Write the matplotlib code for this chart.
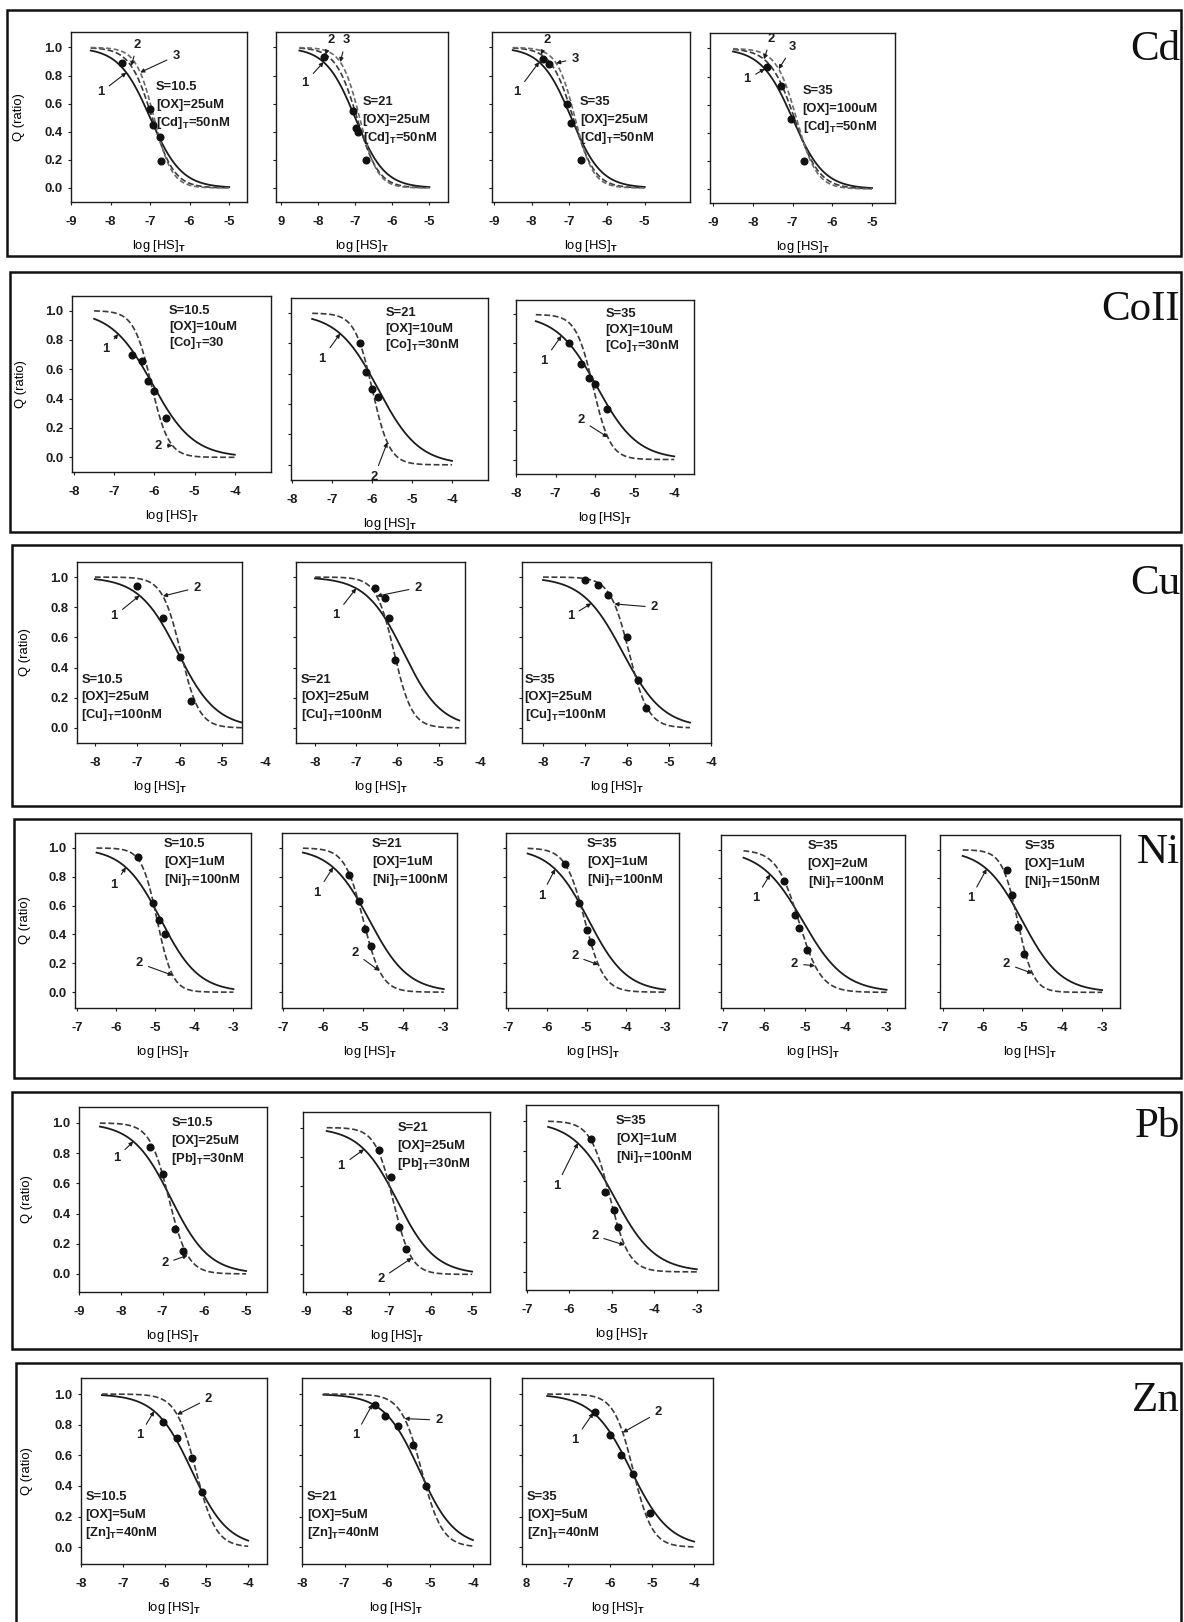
import numpy as np
import matplotlib
matplotlib.use("Agg")
import matplotlib.pyplot as plt
from matplotlib.patches import Rectangle

# ---------------------------------------------------------------------------
# Data: fitted logistic curves Q = 1 / (1 + 10**(slope * (log[HS]T - mid)))
# Curve order per panel: 1 (solid), 2 (dashed), 3 (dashed, Cd only)
# ---------------------------------------------------------------------------

# ---- Cd ----
CD_MID = [[-7.0, -6.95, -6.9], [-7.0, -6.95, -6.88], [-6.95, -6.9, -6.85], [-7.0, -6.95, -6.9]]
CD_SLOPE = [[1.1, 1.55, 1.9], [1.1, 1.5, 1.8], [1.1, 1.5, 1.8], [1.1, 1.4, 1.7]]
CD_PTS_X = [[-7.7, -7.0, -6.93, -6.75, -6.72],
            [-7.85, -7.05, -6.98, -6.92, -6.72],
            [-7.7, -7.55, -7.05, -6.95, -6.7],
            [-7.65, -7.3, -7.05, -6.72]]
CD_PTS_Y = [[0.89, 0.56, 0.45, 0.36, 0.19],
            [0.93, 0.55, 0.43, 0.40, 0.20],
            [0.92, 0.88, 0.60, 0.46, 0.20],
            [0.87, 0.73, 0.50, 0.20]]
CD_INFO = [["S=10.5", "[OX]=25uM", "[Cd]$_T$=50nM"],
           ["S=21", "[OX]=25uM", "[Cd]$_T$=50nM"],
           ["S=35", "[OX]=25uM", "[Cd]$_T$=50nM"],
           ["S=35", "[OX]=100uM", "[Cd]$_T$=50nM"]]
CD_XTICKS = [-9, -8, -7, -6, -5]
CD_XTICKLABELS = [["-9", "-8", "-7", "-6", "-5"], ["9", "-8", "-7", "-6", "-5"],
                  ["-9", "-8", "-7", "-6", "-5"], ["-9", "-8", "-7", "-6", "-5"]]
CD_DOMAIN = [(-8.5, -5.0)] * 4

# ---- CoII ----
CO_MID = [[-6.05, -6.08], [-5.85, -6.0], [-5.95, -6.05]]
CO_SLOPE = [[0.85, 2.0], [0.85, 2.0], [0.85, 2.0]]
CO_PTS_X = [[-6.55, -6.3, -6.15, -6.0, -5.7],
            [-6.3, -6.15, -6.0, -5.85],
            [-6.65, -6.35, -6.15, -6.0, -5.7]]
CO_PTS_Y = [[0.70, 0.66, 0.52, 0.45, 0.27],
            [0.80, 0.61, 0.50, 0.45],
            [0.80, 0.66, 0.56, 0.52, 0.35]]
CO_INFO = [["S=10.5", "[OX]=10uM", "[Co]$_T$=30"],
           ["S=21", "[OX]=10uM", "[Co]$_T$=30nM"],
           ["S=35", "[OX]=10uM", "[Co]$_T$=30nM"]]
CO_XTICKS = [-8, -7, -6, -5, -4]
CO_XTICKLABELS = [["-8", "-7", "-6", "-5", "-4"]] * 3
CO_DOMAIN = [(-7.5, -4.0)] * 3

# ---- Cu ----
CU_MID = [[-6.05, -5.98], [-5.85, -6.08], [-6.1, -5.95]]
CU_SLOPE = [[0.95, 2.0], [0.95, 2.0], [0.9, 1.9]]
CU_PTS_X = [[-7.0, -6.4, -6.0, -5.75],
            [-6.55, -6.3, -6.2, -6.05],
            [-7.0, -6.7, -6.45, -6.0, -5.75, -5.55]]
CU_PTS_Y = [[0.94, 0.73, 0.47, 0.18],
            [0.93, 0.86, 0.73, 0.45],
            [0.98, 0.95, 0.88, 0.60, 0.32, 0.13]]
CU_INFO = [["S=10.5", "[OX]=25uM", "[Cu]$_T$=100nM"],
           ["S=21", "[OX]=25uM", "[Cu]$_T$=100nM"],
           ["S=35", "[OX]=25uM", "[Cu]$_T$=100nM"]]
CU_XTICKS = [-8, -7, -6, -5, -4]
CU_XTICKLABELS = [["-8", "-7", "-6", "-5", "-4"]] * 3
CU_DOMAIN = [(-8.0, -4.5)] * 3

# ---- Ni ----
NI_MID = [[-4.85, -4.95], [-4.85, -5.0], [-4.95, -5.05], [-5.05, -5.15], [-5.0, -5.12]]
NI_SLOPE = [[0.9, 2.2], [0.9, 1.9], [0.9, 1.8], [0.85, 1.6], [0.9, 2.2]]
NI_PTS_X = [[-5.45, -5.05, -4.9, -4.75],
            [-5.35, -5.1, -4.95, -4.8],
            [-5.55, -5.2, -5.0, -4.9],
            [-5.5, -5.25, -5.15, -4.95],
            [-5.4, -5.25, -5.1, -4.95]]
NI_PTS_Y = [[0.94, 0.62, 0.50, 0.40],
            [0.81, 0.63, 0.44, 0.32],
            [0.89, 0.62, 0.43, 0.35],
            [0.78, 0.54, 0.45, 0.30],
            [0.86, 0.68, 0.46, 0.27]]
NI_INFO = [["S=10.5", "[OX]=1uM", "[Ni]$_T$=100nM"],
           ["S=21", "[OX]=1uM", "[Ni]$_T$=100nM"],
           ["S=35", "[OX]=1uM", "[Ni]$_T$=100nM"],
           ["S=35", "[OX]=2uM", "[Ni]$_T$=100nM"],
           ["S=35", "[OX]=1uM", "[Ni]$_T$=150nM"]]
NI_XTICKS = [-7, -6, -5, -4, -3]
NI_XTICKLABELS = [["-7", "-6", "-5", "-4", "-3"]] * 5
NI_DOMAIN = [(-6.5, -3.0)] * 5

# ---- Pb ----
PB_MID = [[-6.8, -6.85], [-6.8, -6.9], [-4.95, -5.05]]
PB_SLOPE = [[0.95, 1.9], [0.95, 2.0], [0.9, 1.9]]
PB_PTS_X = [[-7.3, -7.0, -6.7, -6.5],
            [-7.25, -6.95, -6.75, -6.6],
            [-5.5, -5.15, -4.95, -4.85]]
PB_PTS_Y = [[0.84, 0.66, 0.30, 0.15],
            [0.85, 0.66, 0.32, 0.17],
            [0.88, 0.53, 0.41, 0.30]]
PB_INFO = [["S=10.5", "[OX]=25uM", "[Pb]$_T$=30nM"],
           ["S=21", "[OX]=25uM", "[Pb]$_T$=30nM"],
           ["S=35", "[OX]=1uM", "[Ni]$_T$=100nM"]]
PB_XTICKS = [[-9, -8, -7, -6, -5], [-9, -8, -7, -6, -5], [-7, -6, -5, -4, -3]]
PB_XTICKLABELS = [["-9", "-8", "-7", "-6", "-5"], ["-9", "-8", "-7", "-6", "-5"],
                  ["-7", "-6", "-5", "-4", "-3"]]
PB_DOMAIN = [(-8.5, -5.0), (-8.5, -5.0), (-6.5, -3.0)]

# ---- Zn ----
ZN_MID = [[-5.35, -5.25], [-5.25, -5.2], [-5.5, -5.45]]
ZN_SLOPE = [[1.0, 1.8], [1.05, 1.8], [0.95, 1.9]]
ZN_PTS_X = [[-6.05, -5.7, -5.35, -5.1],
            [-6.3, -6.05, -5.75, -5.4, -5.1],
            [-6.35, -6.0, -5.75, -5.45, -5.05]]
ZN_PTS_Y = [[0.82, 0.71, 0.58, 0.36],
            [0.93, 0.86, 0.79, 0.67, 0.40],
            [0.88, 0.73, 0.60, 0.48, 0.22]]
ZN_INFO = [["S=10.5", "[OX]=5uM", "[Zn]$_T$=40nM"],
           ["S=21", "[OX]=5uM", "[Zn]$_T$=40nM"],
           ["S=35", "[OX]=5uM", "[Zn]$_T$=40nM"]]
ZN_XTICKS = [-8, -7, -6, -5, -4]
ZN_XTICKLABELS = [["-8", "-7", "-6", "-5", "-4"], ["-8", "-7", "-6", "-5", "-4"],
                  ["8", "-7", "-6", "-5", "-4"]]
ZN_DOMAIN = [(-7.5, -4.0)] * 3

Y_TICKS = [0.0, 0.2, 0.4, 0.6, 0.8, 1.0]
Y_TICKLABELS = ["0.0", "0.2", "0.4", "0.6", "0.8", "1.0"]

# ---------------------------------------------------------------------------
# Layout (pixel frames x0, x1, y0, y1 measured from the top-left corner)
# ---------------------------------------------------------------------------
W, H = 1184, 1622

LAYOUT = {
    "Cd": dict(box=(7, 10, 1181, 256), title_y=50, ylabel_x=25,
               frames=[(71, 247, 32, 202), (276, 448, 32, 202),
                       (492, 690, 32, 202), (710, 895, 33, 203)],
               xlims=[(-9.0, -4.55), (-9.13, -4.5), (-9.05, -3.8), (-9.08, -4.42)],
               ylim=(-0.1, 1.11),
               info_at=[(-6.85, 0.72), (-6.8, 0.61), (-6.72, 0.61), (-6.75, 0.70)],
               info_step=18,
               arrows=[[("1", -8.25, 0.68, 0, -7.6), ("2", -7.32, 1.02, 1, -7.48),
                        ("3", -6.35, 0.94, 2, -7.25)],
                       [("1", -8.35, 0.75, 0, -7.85), ("2", -7.65, 1.05, 1, -7.8),
                        ("3", -7.25, 1.05, 2, -7.4)],
                       [("1", -8.4, 0.68, 0, -7.8), ("2", -7.6, 1.05, 1, -7.75),
                        ("3", -6.85, 0.92, 2, -7.35)],
                       [("1", -8.15, 0.78, 0, -7.7), ("2", -7.55, 1.07, 1, -7.72),
                        ("3", -7.0, 1.01, 2, -7.35)]]),
    "CoII": dict(box=(10, 272, 1181, 532), title_y=310, ylabel_x=27,
                 frames=[(72, 271, 296, 472), (291, 488, 298, 480), (516, 694, 300, 474)],
                 xlims=[(-8.05, -3.1), (-8.03, -3.1), (-8.0, -3.5)],
                 ylim=(-0.1, 1.1),
                 info_at=[(-5.64, 1.0), (-5.67, 1.0), (-5.74, 1.0)],
                 info_step=16,
                 arrows=[[("1", -7.2, 0.74, 0, -6.9), ("2", -5.9, 0.08, 1, -5.55)],
                         [("1", -7.25, 0.70, 0, -6.8), ("2", -5.95, -0.08, 1, -5.62)],
                         [("1", -7.3, 0.68, 0, -6.85), ("2", -6.35, 0.27, 1, -5.68)]]),
    "Cu": dict(box=(12, 545, 1181, 806), title_y=584, ylabel_x=31,
               frames=[(77, 242, 562, 743), (296, 465, 562, 743), (522, 711, 562, 743)],
               xlims=[(-8.42, -4.54), (-8.46, -4.36), (-8.5, -4.0)],
               ylim=(-0.1, 1.1),
               info_at=[(-8.32, 0.32), (-8.34, 0.32), (-8.44, 0.32)],
               info_step=17.5,
               arrows=[[("1", -7.55, 0.74, 0, -6.95), ("2", -5.6, 0.93, 1, -6.4)],
                       [("1", -7.5, 0.75, 0, -7.0), ("2", -5.5, 0.93, 1, -6.5)],
                       [("1", -7.35, 0.74, 0, -6.85), ("2", -5.35, 0.80, 1, -6.3)]]),
    "Ni": dict(box=(14, 819, 1181, 1078), title_y=853, ylabel_x=31,
               frames=[(75, 251, 833, 1008), (282, 457, 833, 1008), (506, 679, 833, 1008),
                       (721, 905, 835, 1008), (940, 1120, 835, 1008)],
               xlims=[(-7.05, -2.55), (-7.02, -2.67), (-7.05, -2.65), (-7.05, -2.55),
                      (-7.07, -2.55)],
               ylim=(-0.11, 1.104),
               info_at=[(-4.78, 1.03), (-4.78, 1.03), (-4.99, 1.03), (-4.93, 1.03),
                        (-4.95, 1.03)],
               info_step=18,
               arrows=[[("1", -6.05, 0.74, 0, -5.75), ("2", -5.4, 0.20, 1, -4.55)],
                       [("1", -6.15, 0.69, 0, -5.75), ("2", -5.2, 0.27, 1, -4.6)],
                       [("1", -6.15, 0.67, 0, -5.8), ("2", -5.3, 0.25, 1, -4.7)],
                       [("1", -6.2, 0.66, 0, -5.85), ("2", -5.25, 0.20, 1, -4.75)],
                       [("1", -6.3, 0.66, 0, -5.9), ("2", -5.4, 0.20, 1, -4.75)]]),
    "Pb": dict(box=(12, 1092, 1181, 1349), title_y=1127, ylabel_x=33,
               frames=[(79, 267, 1107, 1292), (303, 490, 1112, 1292), (526, 718, 1105, 1290)],
               xlims=[(-9.0, -4.5), (-9.07, -4.57), (-7.02, -2.5)],
               ylim=(-0.12, 1.106),
               info_at=[(-6.79, 1.0), (-6.8, 1.0), (-4.9, 1.0)],
               info_step=18,
               arrows=[[("1", -8.1, 0.77, 0, -7.7), ("2", -6.95, 0.07, 1, -6.4)],
                       [("1", -8.15, 0.74, 0, -7.6), ("2", -7.2, -0.03, 1, -6.45)],
                       [("1", -6.3, 0.57, 0, -5.8), ("2", -5.4, 0.24, 1, -4.7)]]),
    "Zn": dict(box=(16, 1363, 1181, 1660), title_y=1401, ylabel_x=33,
               frames=[(81, 267, 1378, 1564), (302, 490, 1378, 1564), (522, 713, 1378, 1564)],
               xlims=[(-8.0, -3.55), (-8.0, -3.6), (-8.1, -3.55)],
               ylim=(-0.11, 1.105),
               info_at=[(-7.9, 0.33), (-7.88, 0.33), (-7.98, 0.33)],
               info_step=18,
               arrows=[[("1", -6.6, 0.73, 0, -6.25), ("2", -4.95, 0.97, 1, -5.7)],
                       [("1", -6.75, 0.73, 0, -6.35), ("2", -4.8, 0.83, 1, -5.6)],
                       [("1", -6.85, 0.70, 0, -6.4), ("2", -4.85, 0.88, 1, -5.7)]]),
}

INK = "#1c1c1c"
SOLID = dict(color=INK, lw=1.3, ls="-")
DASHED = dict(color="#3a3a3a", lw=1.2, ls=(0, (3.5, 1.6)))
DASHED_LIGHT = dict(color="#6a6a6a", lw=1.2, ls=(0, (3.0, 1.6)))

FS = 9.4
TICK_LEN = 2.2
TICK_PAD = 8.0

plt.rcParams.update({
    "font.family": ["Liberation Sans", "DejaVu Sans"],
    "font.weight": "bold",
    "font.size": FS,
    "mathtext.fontset": "custom",
    "mathtext.rm": "Liberation Sans:bold",
    "mathtext.it": "Liberation Sans:bold",
    "mathtext.bf": "Liberation Sans:bold",
    "mathtext.sf": "Liberation Sans:bold",
    "mathtext.default": "bf",
    "axes.linewidth": 1.0,
    "axes.edgecolor": INK,
    "text.color": INK,
    "xtick.color": INK,
    "ytick.color": INK,
})


def logistic(x, mid, slope):
    return 1.0 / (1.0 + 10.0 ** (slope * (x - mid)))


def draw_row(fig, name, mids, slopes, pts_x, pts_y, info, xticks, xticklabels, domains):
    lay = LAYOUT[name]
    bx0, by0, bx1, by1 = lay["box"]
    fig.add_artist(Rectangle((bx0 / W, 1 - by1 / H), (bx1 - bx0) / W, (by1 - by0) / H,
                             transform=fig.transFigure, fill=False, lw=1.8, ec="#111111"))
    fig.text(1180 / W, 1 - lay["title_y"] / H, name, ha="right", va="center",
             family=["Liberation Serif", "DejaVu Serif"], fontweight="normal",
             fontsize=31, color="#111111")

    for i, (x0, x1, y0, y1) in enumerate(lay["frames"]):
        ax = fig.add_axes([x0 / W, 1 - y1 / H, (x1 - x0) / W, (y1 - y0) / H])
        ax.set_xlim(*lay["xlims"][i])
        ax.set_ylim(*lay["ylim"])
        styles = [SOLID, DASHED, DASHED_LIGHT]

        lo, hi = domains[i]
        xs = np.linspace(lo, hi, 300)
        for k, (m, s) in enumerate(zip(mids[i], slopes[i])):
            ax.plot(xs, logistic(xs, m, s), **styles[k], zorder=3)
        ax.plot(pts_x[i], pts_y[i], "o", ms=4.8, color="#111111", zorder=5)

        # x ticks; labels that fall past the frame are written beside it
        ticks = xticks[i] if isinstance(xticks[0], list) else xticks
        labels = xticklabels[i]
        xa, xb = sorted(ax.get_xlim())
        inside = [(t, l) for t, l in zip(ticks, labels) if xa - 1e-6 <= t <= xb + 1e-6]
        outside = [(t, l) for t, l in zip(ticks, labels) if not (xa - 1e-6 <= t <= xb + 1e-6)]
        ax.set_xticks([t for t, _ in inside])
        ax.set_xticklabels([l for _, l in inside])
        for t, l in outside:
            ax.annotate(l, xy=(t, 0), xycoords=("data", "axes fraction"),
                        xytext=(0, -(TICK_LEN + TICK_PAD)), textcoords="offset points",
                        ha="center", va="top", fontsize=FS, annotation_clip=False)

        ax.set_yticks(Y_TICKS)
        if i == 0:
            ax.set_yticklabels(Y_TICKLABELS)
            ax.set_ylabel("Q (ratio)", fontsize=FS)
            ax.yaxis.set_label_coords((lay["ylabel_x"] - x0) / (x1 - x0), 0.5)
        else:
            ax.tick_params(axis="y", labelleft=False)
        ax.tick_params(direction="out", length=TICK_LEN, width=0.8, pad=TICK_PAD,
                       labelsize=FS)
        ax.tick_params(axis="y", pad=4)
        ax.set_xlabel(r"log [HS]$_T$", fontsize=FS, labelpad=7)

        # condition text block
        ix, iy = lay["info_at"][i]
        for j, line in enumerate(info[i]):
            ax.annotate(line, xy=(ix, iy), xycoords="data",
                        xytext=(0, -j * lay["info_step"] * 0.72), textcoords="offset points",
                        ha="left", va="center", fontsize=FS, annotation_clip=False)

        # curve labels with arrows
        for lbl, tx, ty, ci, cx in lay["arrows"][i]:
            cy = logistic(cx, mids[i][ci], slopes[i][ci])
            ax.annotate(lbl, xy=(cx, cy), xytext=(tx, ty), ha="center", va="center",
                        fontsize=FS,
                        arrowprops=dict(arrowstyle="-|>", lw=0.8, color=INK,
                                        mutation_scale=6, shrinkA=2, shrinkB=0))


fig = plt.figure(figsize=(W / 100, H / 100), dpi=100)
fig.patch.set_facecolor("white")

draw_row(fig, "Cd", CD_MID, CD_SLOPE, CD_PTS_X, CD_PTS_Y, CD_INFO,
         CD_XTICKS, CD_XTICKLABELS, CD_DOMAIN)
draw_row(fig, "CoII", CO_MID, CO_SLOPE, CO_PTS_X, CO_PTS_Y, CO_INFO,
         CO_XTICKS, CO_XTICKLABELS, CO_DOMAIN)
draw_row(fig, "Cu", CU_MID, CU_SLOPE, CU_PTS_X, CU_PTS_Y, CU_INFO,
         CU_XTICKS, CU_XTICKLABELS, CU_DOMAIN)
draw_row(fig, "Ni", NI_MID, NI_SLOPE, NI_PTS_X, NI_PTS_Y, NI_INFO,
         NI_XTICKS, NI_XTICKLABELS, NI_DOMAIN)
draw_row(fig, "Pb", PB_MID, PB_SLOPE, PB_PTS_X, PB_PTS_Y, PB_INFO,
         PB_XTICKS, PB_XTICKLABELS, PB_DOMAIN)
draw_row(fig, "Zn", ZN_MID, ZN_SLOPE, ZN_PTS_X, ZN_PTS_Y, ZN_INFO,
         ZN_XTICKS, ZN_XTICKLABELS, ZN_DOMAIN)

fig.savefig("out.png", dpi=100, facecolor="white")
